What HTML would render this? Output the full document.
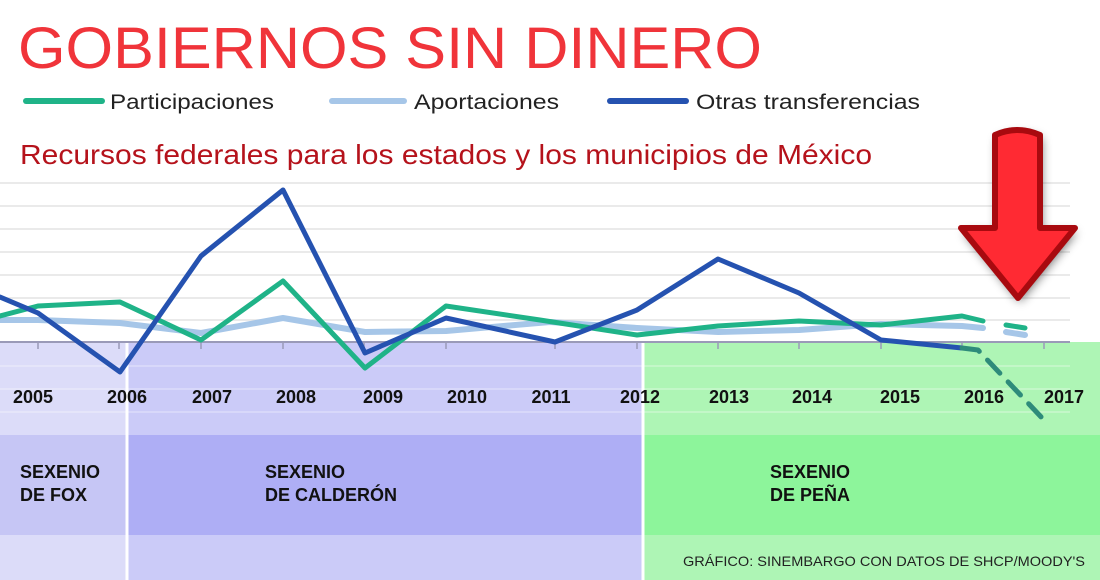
<!DOCTYPE html>
<html><head><meta charset="utf-8"><style>
body{margin:0;width:1100px;height:580px;overflow:hidden;background:#fff;font-family:"Liberation Sans",sans-serif}
</style></head><body>
<svg width="1100" height="580" xmlns="http://www.w3.org/2000/svg" style="position:absolute;left:0;top:0">
<defs><filter id="sh" x="-30%" y="-30%" width="160%" height="160%"><feGaussianBlur stdDeviation="5"/></filter></defs>
<rect x="0" y="342" width="127" height="93" fill="#dcdcf9"/>
<rect x="127" y="342" width="516" height="93" fill="#cbcbf8"/>
<rect x="643" y="342" width="457" height="93" fill="#aef5b5"/>
<rect x="0" y="435" width="127" height="100" fill="#c6c6f5"/>
<rect x="127" y="435" width="516" height="100" fill="#aeaef5"/>
<rect x="643" y="435" width="457" height="100" fill="#8df59b"/>
<rect x="0" y="535" width="127" height="45" fill="#dcdcf9"/>
<rect x="127" y="535" width="516" height="45" fill="#cbcbf8"/>
<rect x="643" y="535" width="457" height="45" fill="#aef5b5"/>
<line x1="127" y1="342" x2="127" y2="580" stroke="#fff" stroke-width="3"/>
<line x1="643" y1="342" x2="643" y2="580" stroke="#fff" stroke-width="3"/>
<g stroke="#e3e3e3" stroke-width="1.5">
<line x1="0" y1="183" x2="1070" y2="183"/><line x1="0" y1="206" x2="1070" y2="206"/>
<line x1="0" y1="229" x2="1070" y2="229"/><line x1="0" y1="252" x2="1070" y2="252"/>
<line x1="0" y1="275" x2="1070" y2="275"/><line x1="0" y1="298" x2="1070" y2="298"/>
<line x1="0" y1="320" x2="1070" y2="320"/>
</g>
<g stroke="#ffffff" stroke-opacity="0.35" stroke-width="1.5">
<line x1="0" y1="366" x2="1070" y2="366"/><line x1="0" y1="389" x2="1070" y2="389"/>
<line x1="0" y1="412" x2="1070" y2="412"/>
</g>
<line x1="0" y1="342" x2="1070" y2="342" stroke="#9a9ab8" stroke-width="2"/>
<g stroke="#9a9ab8" stroke-width="1.5">
<line x1="38" y1="342" x2="38" y2="349"/><line x1="119" y1="342" x2="119" y2="349"/><line x1="201" y1="342" x2="201" y2="349"/>
<line x1="283" y1="342" x2="283" y2="349"/><line x1="364" y1="342" x2="364" y2="349"/><line x1="446" y1="342" x2="446" y2="349"/>
<line x1="555" y1="342" x2="555" y2="349"/><line x1="637" y1="342" x2="637" y2="349"/><line x1="718" y1="342" x2="718" y2="349"/>
<line x1="799" y1="342" x2="799" y2="349"/><line x1="881" y1="342" x2="881" y2="349"/><line x1="962" y1="342" x2="962" y2="349"/><line x1="1044" y1="342" x2="1044" y2="349"/>
</g>
<g fill="none" stroke-linejoin="round" stroke-linecap="round" stroke-width="5">
<polyline stroke="#a6c6e8" stroke-width="6" points="0,320 38,320 120,323 201,333 283,318 365,332 446,331 550,322 637,328 718,332 799,330 881,324 962,326 983,328"/>
<line x1="1006" y1="332" x2="1025" y2="335" stroke="#a6c6e8" stroke-width="6"/>
<polyline stroke="#1fb388" points="0,316 38,306 120,302 201,340 283,281 365,368 446,306 540,320 637,335 718,326 799,321 881,325 962,316 983,321"/>
<line x1="1006" y1="325" x2="1025" y2="328" stroke="#1fb388"/>
<polyline stroke="#2552b0" points="0,297 38,313 120,372 201,256 283,190 365,353 446,318 555,342 637,310 718,259 799,293 881,340 962,348"/>
<polyline stroke="#2e8b7a" stroke-dasharray="18,12" points="962,348 978,350 1044,420"/>
</g>
<g font-family="Liberation Sans,sans-serif" font-weight="bold" font-size="18" fill="#111" text-anchor="middle">
<text x="33" y="403">2005</text><text x="127" y="403">2006</text><text x="212" y="403">2007</text>
<text x="296" y="403">2008</text><text x="383" y="403">2009</text><text x="467" y="403">2010</text>
<text x="551" y="403">2011</text><text x="640" y="403">2012</text><text x="729" y="403">2013</text>
<text x="812" y="403">2014</text><text x="900" y="403">2015</text><text x="984" y="403">2016</text><text x="1064" y="403">2017</text>
</g>
<g font-family="Liberation Sans,sans-serif" font-weight="bold" font-size="18" fill="#111">
<text x="20" y="478">SEXENIO</text><text x="20" y="501">DE FOX</text>
<text x="265" y="478">SEXENIO</text><text x="265" y="501">DE CALDERÓN</text>
<text x="770" y="478">SEXENIO</text><text x="770" y="501">DE PEÑA</text>
</g>
<text x="683" y="566" textLength="402" lengthAdjust="spacingAndGlyphs" font-size="14" fill="#222">GRÁFICO: SINEMBARGO CON DATOS DE SHCP/MOODY'S</text>
<path d="M995,135 Q1017,125 1040,135 L1040,228 L1075,228 L1018,298 L961,228 L995,228 Z" fill="#000" opacity="0.55" filter="url(#sh)" transform="translate(2,4)"/>
<path d="M995,135 Q1017,125 1040,135 L1040,228 L1075,228 L1018,298 L961,228 L995,228 Z" fill="#ff2a33" stroke="#a80a0f" stroke-width="6" stroke-linejoin="round"/>
<text x="18" y="68" font-size="58" textLength="744" lengthAdjust="spacingAndGlyphs" fill="#f0343a" font-family="Liberation Sans,sans-serif">GOBIERNOS SIN DINERO</text>
<g stroke-width="6" stroke-linecap="round">
<line x1="26" y1="101" x2="102" y2="101" stroke="#1fb388"/>
<line x1="332" y1="101" x2="404" y2="101" stroke="#a6c6e8"/>
<line x1="610" y1="101" x2="686" y2="101" stroke="#2552b0"/>
</g>
<g font-size="21" fill="#222">
<text x="110" y="109" textLength="164" lengthAdjust="spacingAndGlyphs">Participaciones</text>
<text x="414" y="109" textLength="145" lengthAdjust="spacingAndGlyphs">Aportaciones</text>
<text x="696" y="109" textLength="224" lengthAdjust="spacingAndGlyphs">Otras transferencias</text>
</g>
<text x="20" y="164" font-size="28" textLength="852" lengthAdjust="spacingAndGlyphs" fill="#b5121b">Recursos federales para los estados y los municipios de México</text>
</svg>
</body></html>
